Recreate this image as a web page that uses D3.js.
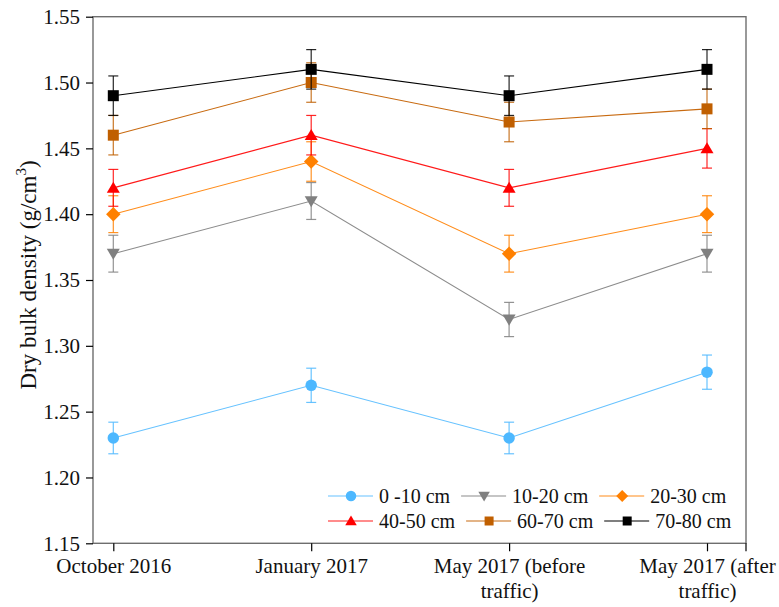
<!DOCTYPE html>
<html>
<head>
<meta charset="utf-8">
<script src="https://cdn.jsdelivr.net/npm/d3@7"></script>
<style>
  html, body { margin: 0; padding: 0; background: #fff; }
  svg { display: block; font-family: "Liberation Serif", "Times New Roman", serif; }
</style>
</head>
<body>
<svg id="chart" width="779" height="607"></svg>
<script>
// Sampling dates (x categories); "\n" splits a label over two lines
const dates = ["October 2016", "January 2017", "May 2017 (before\ntraffic)", "May 2017 (after\ntraffic)"];

// Dry bulk density (g/cm3) per soil depth layer
const depths = ["0 -10 cm", "10-20 cm", "20-30 cm", "40-50 cm", "60-70 cm", "70-80 cm"];
const d0_10  = [1.23, 1.27, 1.23, 1.28];
const d10_20 = [1.37, 1.41, 1.32, 1.37];
const d20_30 = [1.40, 1.44, 1.37, 1.40];
const d40_50 = [1.42, 1.46, 1.42, 1.45];
const d60_70 = [1.46, 1.50, 1.47, 1.48];
const d70_80 = [1.49, 1.51, 1.49, 1.51];

// Standard errors
const e0_10  = [0.012, 0.013, 0.012, 0.013];
const e10_20 = [0.014, 0.014, 0.013, 0.014];
const e20_30 = [0.014, 0.015, 0.014, 0.014];
const e40_50 = [0.014, 0.015, 0.014, 0.015];
const e60_70 = [0.015, 0.015, 0.015, 0.015];
const e70_80 = [0.015, 0.015, 0.015, 0.015];

// Y axis ticks
const yTicks = [1.15, 1.20, 1.25, 1.30, 1.35, 1.40, 1.45, 1.50, 1.55];

const series = [
  { name: depths[0], values: d0_10,  errors: e0_10,  color: "#4db8ff", line: "#66c2ff", shape: "circle" },
  { name: depths[1], values: d10_20, errors: e10_20, color: "#808080", line: "#8c8c8c", shape: "down" },
  { name: depths[2], values: d20_30, errors: e20_30, color: "#ff8000", line: "#ff8c1a", shape: "diamond" },
  { name: depths[3], values: d40_50, errors: e40_50, color: "#ff0000", line: "#ff1a1a", shape: "up" },
  { name: depths[4], values: d60_70, errors: e60_70, color: "#c05f00", line: "#c86a10", shape: "square" },
  { name: depths[5], values: d70_80, errors: e70_80, color: "#000000", line: "#000000", shape: "square" }
];

const svg = d3.select("#chart");
const frame = { left: 93, right: 746, top: 16.7, bottom: 543.3 };

const x = d3.scalePoint().domain(dates).range([113.3, 707]);
const y = d3.scaleLinear().domain([1.15, 1.55]).range([frame.bottom, frame.top]);

// Marker path generator, size given as approximate width in px
function markerPath(shape, w) {
  const h = w / 2;
  switch (shape) {
    case "circle": return d3.symbol(d3.symbolCircle, Math.PI * h * h)();
    case "square": return `M${-h},${-h}H${h}V${h}H${-h}Z`;
    case "diamond": return `M0,${-h}L${h},0L0,${h}L${-h},0Z`;
    case "up": return `M0,${-h * 0.95}L${h},${h * 0.75}L${-h},${h * 0.75}Z`;
    case "down": return `M0,${h * 0.95}L${h},${-h * 0.75}L${-h},${-h * 0.75}Z`;
  }
}
const markerSize = { circle: 11.5, square: 11, diamond: 14.5, up: 13, down: 13 };
const legendSize = { circle: 10.5, square: 9, diamond: 12, up: 11.5, down: 11.5 };

// Frame
svg.append("rect")
  .attr("x", frame.left).attr("y", frame.top)
  .attr("width", frame.right - frame.left).attr("height", frame.bottom - frame.top)
  .attr("fill", "none").attr("stroke", "#6e6e6e").attr("stroke-width", 1.4);

// Y axis
const yAxis = d3.axisLeft(y).tickValues(yTicks).tickFormat(d3.format(".2f")).tickSizeInner(7).tickSizeOuter(0).tickPadding(6);
const gy = svg.append("g").attr("transform", `translate(${frame.left},0)`).call(yAxis);
gy.select(".domain").remove();
gy.selectAll(".tick line").attr("stroke", "#000").attr("stroke-width", 1.2);
gy.selectAll(".tick text").attr("font-size", 21).attr("fill", "#111").attr("font-family", "Liberation Serif");

// X axis
const xAxis = d3.axisBottom(x).tickSizeInner(8).tickSizeOuter(0).tickFormat("");
const gx = svg.append("g").attr("transform", `translate(0,${frame.bottom})`).call(xAxis);
gx.select(".domain").remove();
gx.selectAll(".tick line").attr("stroke", "#000").attr("stroke-width", 1.2);
gx.append("line").attr("x1", frame.right).attr("x2", frame.right).attr("y1", 0).attr("y2", 8)
  .attr("stroke", "#000").attr("stroke-width", 1.2);
gx.selectAll(".tick").each(function(d) {
  const lines = d.split("\n");
  const t = d3.select(this).append("text")
    .attr("text-anchor", "middle").attr("font-size", 21).attr("fill", "#111")
    .attr("font-family", "Liberation Serif");
  lines.forEach((l, i) => t.append("tspan").attr("x", 0).attr("y", 29.7 + i * 25).text(l));
});

// Y axis title
svg.append("text")
  .attr("transform", "translate(36,275) rotate(-90)")
  .attr("text-anchor", "middle").attr("font-size", 23).attr("fill", "#111")
  .attr("font-family", "Liberation Serif")
  .call(t => {
    t.append("tspan").text("Dry bulk density (g/cm");
    t.append("tspan").attr("font-size", 15).attr("dy", -10).text("3");
    t.append("tspan").attr("dy", 10).text(")");
  });

// Series: lines, error bars, markers
const line = d3.line().x((d, i) => x(dates[i])).y(d => y(d));
series.forEach(s => {
  const g = svg.append("g");
  g.append("path").datum(s.values).attr("d", line)
    .attr("fill", "none").attr("stroke", s.line).attr("stroke-width", 1.1);
  s.values.forEach((v, i) => {
    const cx = x(dates[i]);
    const e = s.errors[i];
    const eg = g.append("g").attr("stroke", s.color).attr("stroke-width", 1.2).attr("stroke-opacity", 0.85);
    eg.append("line").attr("x1", cx).attr("x2", cx).attr("y1", y(v + e)).attr("y2", y(v - e));
    [v + e, v - e].forEach(b => eg.append("line").attr("x1", cx - 5).attr("x2", cx + 5).attr("y1", y(b)).attr("y2", y(b)));
  });
  g.selectAll("path.mk").data(s.values).join("path").attr("class", "mk")
    .attr("transform", (d, i) => `translate(${x(dates[i])},${y(d)})`)
    .attr("d", markerPath(s.shape, markerSize[s.shape]))
    .attr("fill", s.color);
});

// Legend: two rows, entries laid out left to right
const legendRows = [series.slice(0, 3), series.slice(3, 6)];
legendRows.forEach((row, r) => {
  const cy = 496 + r * 25;
  let lx = 328;
  row.forEach(s => {
    const g = svg.append("g");
    g.append("line").attr("x1", lx).attr("x2", lx + 45).attr("y1", cy).attr("y2", cy)
      .attr("stroke", s.line).attr("stroke-width", 1.1);
    g.append("path").attr("transform", `translate(${lx + 23},${cy})`)
      .attr("d", markerPath(s.shape, legendSize[s.shape])).attr("fill", s.color);
    const t = g.append("text").attr("x", lx + 51).attr("y", cy).attr("dy", "0.34em")
      .attr("font-size", 20).attr("fill", "#111").attr("font-family", "Liberation Serif").text(s.name);
    lx = lx + 51 + t.node().getComputedTextLength() + 11;
  });
});
</script>
</body>
</html>
